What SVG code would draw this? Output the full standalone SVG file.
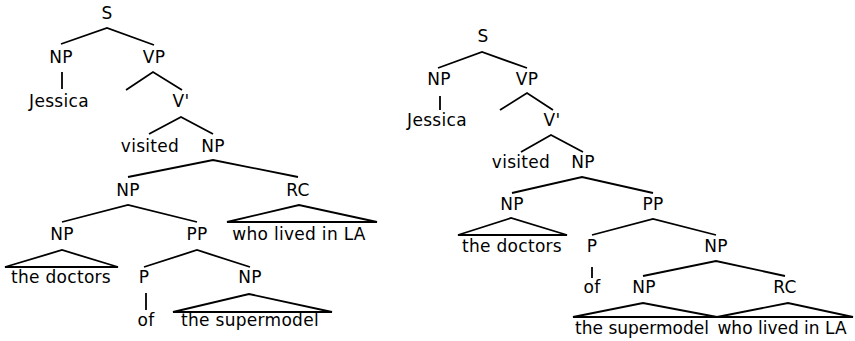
<svg xmlns="http://www.w3.org/2000/svg" width="855" height="341" viewBox="0 0 855 341">
<style>
text{font-family:"DejaVu Sans",Verdana,sans-serif;font-size:17px;letter-spacing:0.3px;fill:#000;text-anchor:middle}
text.t{letter-spacing:0}
.e{stroke:#000;stroke-width:1.8;fill:none;stroke-linejoin:miter}
</style>
<rect width="855" height="341" fill="#fff"/>
<g id="connectors" class="e">
<!-- left tree -->
<path d="M61,44 L107,28 L154,45"/>
<path d="M62,72 V89"/>
<path d="M126,90 L153,72 L182,90"/>
<path d="M149,134 L181,117 L213,134"/>
<path d="M128,177 L213,160 L298,177"/>
<path d="M62,222 L128,205 L197,222"/>
<path d="M227,222 L299,205 L377,222 Z"/>
<path d="M5,267 L62,250 L118,267 Z"/>
<path d="M144,267 L197,250 L250,267"/>
<path d="M146,293 V310"/>
<path d="M173,312 L249,294 L332,312 Z"/>
<!-- right tree -->
<path d="M438,68 L482,52 L527,68"/>
<path d="M440,96 V110"/>
<path d="M500,110 L527,93 L553,110"/>
<path d="M521,152 L551,135 L583,152"/>
<path d="M512,193 L582,177 L653,193"/>
<path d="M458,235 L511,218 L567,235 Z"/>
<path d="M592,235 L653,219 L716,235"/>
<path d="M592,267 V278"/>
<path d="M643,276 L716,261 L785,276"/>
<path d="M573,317 L643,303 L717,317 Z"/>
<path d="M717,317 L788,303 L853,317 Z"/>
</g>
<g id="left-tree">
<g id="L-S"><text x="107" y="19">S</text></g>
<g id="L-NP1"><text x="61" y="63">NP</text></g>
<g id="L-VP"><text x="154" y="63">VP</text></g>
<g id="L-Jessica"><text x="59" y="107">Jessica</text></g>
<g id="L-Vbar"><text x="181" y="107">V'</text></g>
<g id="L-visited"><text x="150" y="152">visited</text></g>
<g id="L-NP2"><text x="213" y="152">NP</text></g>
<g id="L-NP3"><text x="128" y="196">NP</text></g>
<g id="L-RC"><text x="298" y="196">RC</text></g>
<g id="L-RC-text"><text x="299" y="240">who lived in LA</text></g>
<g id="L-NP4"><text x="62" y="240">NP</text></g>
<g id="L-PP"><text x="197" y="240">PP</text></g>
<g id="L-doctors"><text x="61" y="283">the doctors</text></g>
<g id="L-P"><text x="144" y="283">P</text></g>
<g id="L-NP5"><text x="250" y="283">NP</text></g>
<g id="L-of"><text x="146" y="326">of</text></g>
<g id="L-supermodel"><text x="250" y="326">the supermodel</text></g>
</g>
<g id="right-tree">
<g id="R-S"><text x="483" y="42">S</text></g>
<g id="R-NP1"><text x="439" y="85">NP</text></g>
<g id="R-VP"><text x="527" y="85">VP</text></g>
<g id="R-Jessica"><text x="437" y="126">Jessica</text></g>
<g id="R-Vbar"><text x="552" y="126">V'</text></g>
<g id="R-visited"><text x="521" y="168">visited</text></g>
<g id="R-NP2"><text x="583" y="168">NP</text></g>
<g id="R-NP3"><text x="512" y="210">NP</text></g>
<g id="R-PP"><text x="653" y="210">PP</text></g>
<g id="R-doctors"><text x="512" y="252">the doctors</text></g>
<g id="R-P"><text x="592" y="252">P</text></g>
<g id="R-NP4"><text x="716" y="252">NP</text></g>
<g id="R-of"><text x="592" y="293">of</text></g>
<g id="R-NP5"><text x="644" y="293">NP</text></g>
<g id="R-RC"><text x="785" y="293">RC</text></g>
<g id="R-supermodel"><text class="t" x="642" y="334">the supermodel</text></g>
<g id="R-RC-text"><text class="t" x="782" y="334">who lived in LA</text></g>
</g>
</svg>
